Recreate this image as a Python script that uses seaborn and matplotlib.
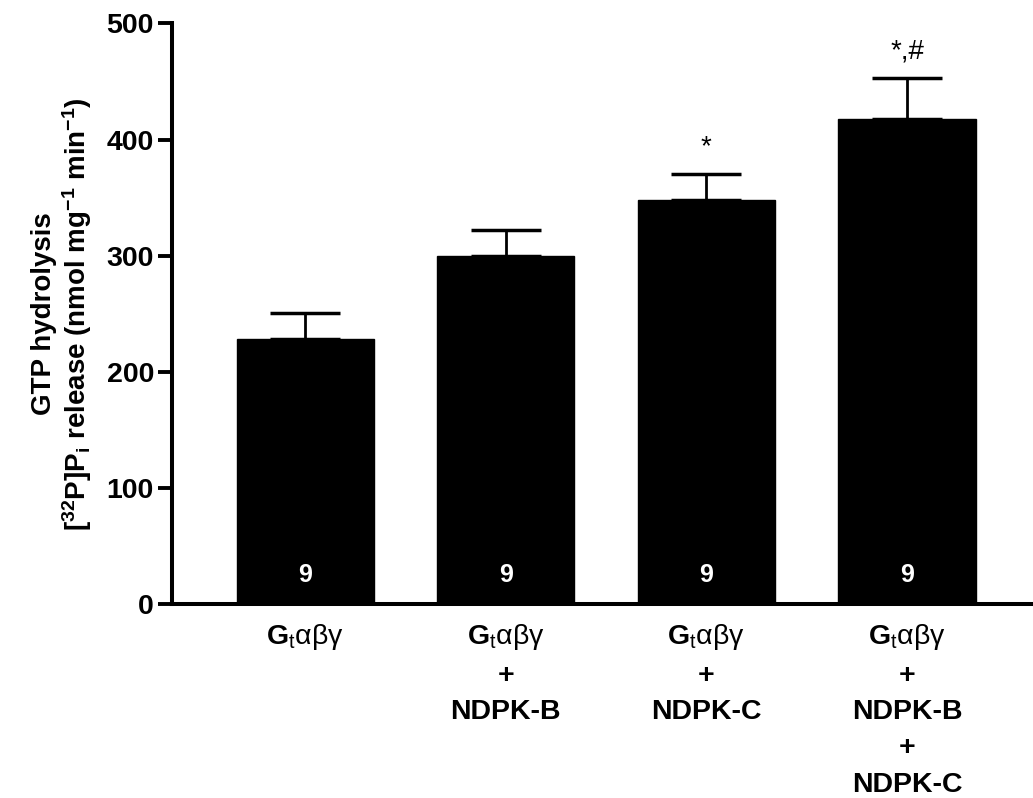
import matplotlib
matplotlib.use("Agg")
import matplotlib.pyplot as plt
import pandas as pd
import seaborn as sns

groups = ["Gtabg", "Gtabg+B", "Gtabg+C", "Gtabg+B+C"]
gt = r"G$_{\mathrm{t}}\mathrm{αβγ}$"
tick_labels = [
    gt,
    gt + "\n+\nNDPK-B",
    gt + "\n+\nNDPK-C",
    gt + "\n+\nNDPK-B\n+\nNDPK-C",
]
means = [228, 300, 348, 418]
sems = [23, 22, 22, 35]
n_values = [9, 9, 9, 9]
marks = ["", "", "*", "*,#"]

sns.set_theme(style="ticks")
plt.rcParams["font.family"] = ["Liberation Sans", "DejaVu Sans"]
plt.rcParams["mathtext.default"] = "regular"
plt.rcParams["mathtext.fontset"] = "custom"
plt.rcParams["mathtext.rm"] = "Liberation Sans"
for key in ["text.color", "axes.labelcolor", "xtick.color", "ytick.color"]:
    plt.rcParams[key] = "black"

df = pd.DataFrame({"group": groups, "mean": means})

fig = plt.figure(figsize=(10.33, 7.98), dpi=100)
ax = fig.add_axes([0.1665, 0.243, 1.0 - 0.1665, 0.9706 - 0.243])

sns.barplot(data=df, x="group", y="mean", color="black", width=0.683,
            saturation=1, ax=ax, zorder=2)
for p in ax.patches:
    p.set_edgecolor("black")

ax.errorbar(range(len(means)), means, yerr=[[0] * len(means), sems],
            fmt="none", ecolor="black", elinewidth=2, capsize=25,
            capthick=2.5, zorder=1)

for i, (m, s, n, mk) in enumerate(zip(means, sems, n_values, marks)):
    ax.text(i, 25, str(n), color="white", ha="center", va="center",
            fontsize=18, fontweight="bold")
    if mk:
        ax.text(i, m + s + 12, mk, color="black", ha="center", va="bottom",
                fontsize=20)

ax.set_xlim(-0.663, 3.628)
ax.set_ylim(0, 500)
ax.set_yticks([0, 100, 200, 300, 400, 500])
ax.set_xticks(range(len(groups)))
ax.set_xticklabels(tick_labels, fontsize=20.5, fontweight="bold",
                   va="top", linespacing=1.52)
ax.tick_params(axis="x", length=0, pad=13)
ax.tick_params(axis="y", length=10, width=2.8, pad=3, labelsize=20.5)
for lab in ax.get_yticklabels():
    lab.set_fontweight("bold")

ax.set_xlabel("")
ax.set_ylabel("GTP hydrolysis\n[$^{32}$P]P$_i$ release (nmol mg$^{-1}$ min$^{-1}$)",
              fontsize=20, fontweight="bold", labelpad=9, linespacing=1.12)

sns.despine(ax=ax)
for side in ["left", "bottom"]:
    ax.spines[side].set_linewidth(2.9)
    ax.spines[side].set_color("black")

fig.savefig("out.png", dpi=100)
